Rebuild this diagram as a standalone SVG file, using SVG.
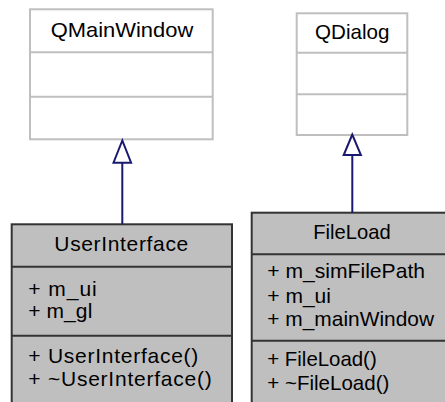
<svg xmlns="http://www.w3.org/2000/svg" width="445" height="402" viewBox="0 0 445 402">
<style>
  .t { font-family: "Liberation Sans", Arial, sans-serif; font-size: 21px; fill: #000; }
  .c { text-anchor: middle; }
  .wb { fill: #ffffff; stroke: #bfbfbf; stroke-width: 2; }
  .wl { stroke: #bfbfbf; stroke-width: 2; }
  .gb { fill: #bfbfbf; stroke: #333333; stroke-width: 2; }
  .gl { stroke: #333333; stroke-width: 2; }
  .edge { stroke: #191970; stroke-width: 2; fill: none; }
  .head { stroke: #191970; stroke-width: 2; fill: #ffffff; }
</style>
<rect width="445" height="402" fill="#ffffff"/>
<g id="QMainWindow">
  <rect class="wb" x="30" y="9.3" width="182.7" height="130"/>
  <line class="wl" x1="30" y1="52.3" x2="212.7" y2="52.3"/>
  <line class="wl" x1="30" y1="96.7" x2="212.7" y2="96.7"/>
  <text class="t c" x="122" y="37" textLength="142.6" lengthAdjust="spacingAndGlyphs">QMainWindow</text>
</g>
<g id="QDialog">
  <rect class="wb" x="296.7" y="13.3" width="110.6" height="121.7"/>
  <line class="wl" x1="296.7" y1="52.7" x2="407.3" y2="52.7"/>
  <line class="wl" x1="296.7" y1="94.3" x2="407.3" y2="94.3"/>
  <text class="t c" x="352.2" y="39.3" textLength="74.3" lengthAdjust="spacingAndGlyphs">QDialog</text>
</g>
<g id="UserInterface">
  <rect class="gb" x="11.7" y="224.3" width="220.3" height="190"/>
  <line class="gl" x1="11.7" y1="266.7" x2="232" y2="266.7"/>
  <line class="gl" x1="11.7" y1="335.7" x2="232" y2="335.7"/>
  <text class="t c" x="121.3" y="251" textLength="134" lengthAdjust="spacing">UserInterface</text>
  <text class="t" x="28.3" y="296" textLength="68.4" lengthAdjust="spacing">+ m_ui</text>
  <text class="t" x="28.3" y="318.3" textLength="64" lengthAdjust="spacing">+ m_gl</text>
  <text class="t" x="28.3" y="362.7" textLength="170" lengthAdjust="spacing">+ UserInterface()</text>
  <text class="t" x="28.3" y="386" textLength="183.4" lengthAdjust="spacing">+ ~UserInterface()</text>
</g>
<g id="FileLoad">
  <rect class="gb" x="251.7" y="212.7" width="200.6" height="200"/>
  <line class="gl" x1="251.7" y1="254.3" x2="452.3" y2="254.3"/>
  <line class="gl" x1="251.7" y1="340.7" x2="452.3" y2="340.7"/>
  <text class="t c" x="352" y="239.3" textLength="77.4" lengthAdjust="spacingAndGlyphs">FileLoad</text>
  <text class="t" x="267.3" y="278.3" textLength="157.7" lengthAdjust="spacingAndGlyphs">+ m_simFilePath</text>
  <text class="t" x="267.3" y="303.3">+ m_ui</text>
  <text class="t" x="267.3" y="326" textLength="166.7" lengthAdjust="spacingAndGlyphs">+ m_mainWindow</text>
  <text class="t" x="267.3" y="365.7" textLength="109.4" lengthAdjust="spacingAndGlyphs">+ FileLoad()</text>
  <text class="t" x="267.3" y="390" textLength="122" lengthAdjust="spacingAndGlyphs">+ ~FileLoad()</text>
</g>
<g id="connectors">
  <line class="edge" x1="122.3" y1="162.7" x2="122.3" y2="224.3"/>
  <polygon class="head" points="122.3,140.5 113.5,162.7 131.1,162.7"/>
  <line class="edge" x1="352.3" y1="155" x2="352.3" y2="212.7"/>
  <polygon class="head" points="352.3,134.5 343.7,155 360.9,155"/>
</g>
</svg>
